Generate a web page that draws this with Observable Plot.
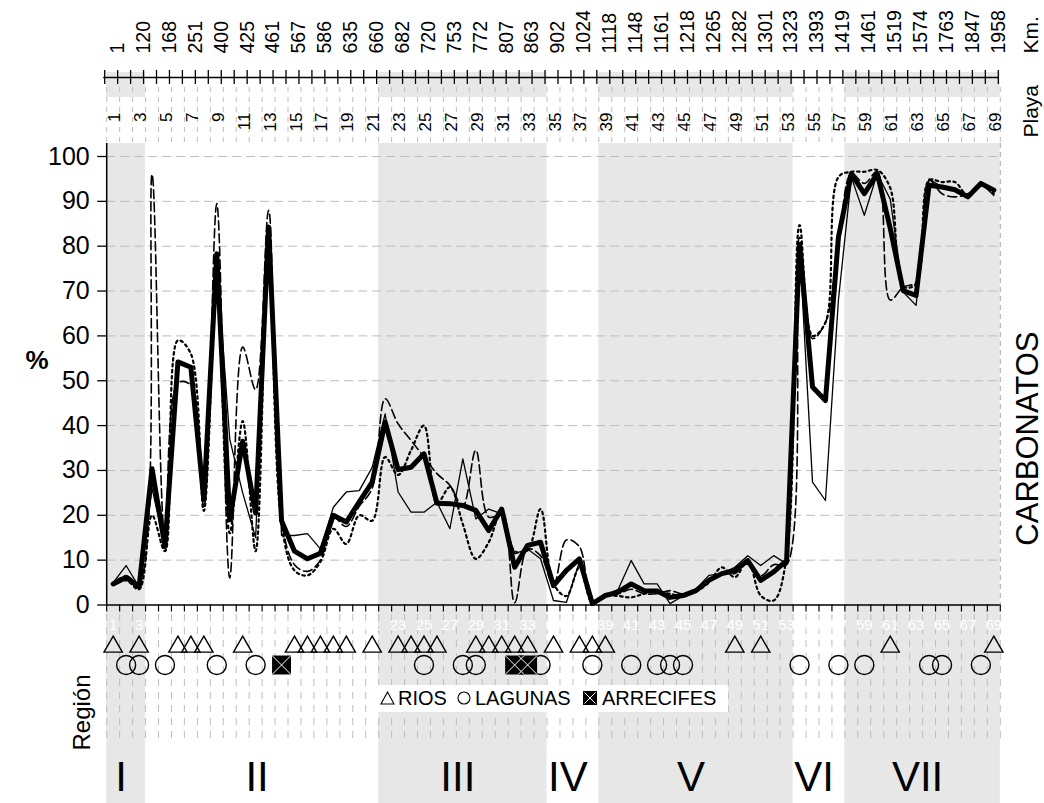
<!DOCTYPE html>
<html>
<head>
<meta charset="utf-8">
<script src="https://cdn.jsdelivr.net/npm/d3@7"></script>
<script src="https://cdn.jsdelivr.net/npm/@observablehq/plot@0.6"></script>
<style>
  body { margin: 0; background: #fff; }
  #wrap { position: relative; width: 1044px; height: 803px; font-family: "Liberation Sans", Arial, sans-serif; }
  #legend { position: absolute; left: 372px; top: 685px; width: 356px; height: 27px; background: #fff; font-size: 20px; color: #000; }
  #legend span, #legend svg { position: absolute; }
  #legend span { top: 0; line-height: 27px; }
</style>
</head>
<body>
<div id="wrap"></div>
<script>
// Beaches (playas) along the coast, numbered 1..69
const playas = d3.range(1, 70);

// Distance along the coast (km) for every odd beach
const kmLabels = [1, 120, 168, 251, 400, 425, 461, 567, 586, 635, 660, 682, 720, 753, 772, 807, 863, 902,
  1024, 1118, 1148, 1161, 1218, 1265, 1282, 1301, 1323, 1393, 1419, 1461, 1519, 1574, 1763, 1847, 1958];

// Carbonate content (%) per beach
const promedio = [4.7, 6.2, 4.0, 30.4, 13, 54.2, 53, 23.5, 78.3, 19,
  36.5, 20.5, 84.3, 18.8, 12, 10.3, 11.5, 20, 18.5, 23,
  27.4, 40.8, 30.2, 30.7, 33.7, 22.7, 22.6, 22.2, 21.1, 16.6,
  21.4, 8.4, 13.3, 14, 4.3, 7.7, 10.3, 0.3, 2.1, 2.9,
  4.7, 3.2, 3.1, 1.7, 2.1, 3.2, 5.5, 7, 7.7, 9.9,
  5.5, 7.4, 9.9, 80.4, 48.6, 45.6, 82, 96.2, 91.7, 96.2,
  84, 70.1, 69, 93.6, 93.2, 92.6, 91, 94, 92.5];

const muestraA = [5, 8.8, 4, 26, 13, 54, 53, 24, 77, 37,
  25, 15, 84, 15.5, 15.5, 15.9, 12.5, 21.8, 25.2, 25.5,
  30.7, 42.6, 25.2, 20.7, 20.7, 22.9, 17, 32.6, 19.2, 21.4,
  20.3, 11.4, 12.5, 10.3, 1, 0.6, 9.6, 0.3, 2, 3.5,
  9.9, 4.7, 4.7, 0.3, 2, 3.5, 6.6, 7, 8.4, 11,
  8.8, 11, 9.2, 80, 27.4, 23.3, 68, 95.4, 86.9, 96.2,
  90.5, 69.8, 66.8, 95, 93.2, 92.8, 91, 94.1, 91.3];

const muestraB = [5, 6.5, 5, 96, 15, 49.5, 49, 22, 89.5, 6,
  57.5, 48, 88, 19, 9, 7.5, 10, 19.5, 17.5, 22,
  26, 46, 40.4, 36.7, 33, 29.3, 26.7, 22, 34.5, 19.6,
  20, 0.5, 12.5, 11, 4.5, 14.5, 13, 0.5, 2.5, 2.5,
  3.5, 2.5, 2.5, 3.2, 2.5, 3.5, 5.5, 7, 7, 9.5,
  6.5, 9, 9, 82, 59.4, 63, 80, 96.2, 94, 96.6,
  68, 70.9, 72, 94.7, 91.7, 91, 91.7, 94, 92.5];

const muestraC = [4.5, 5.5, 3.5, 20, 12, 59, 56, 21, 72, 16,
  41, 12, 84, 18, 7.7, 6.6, 9.6, 17, 13.6, 20,
  18.8, 33, 29, 34.5, 40, 22.6, 26.3, 18, 10.3, 14,
  21, 12, 12.2, 21.4, 4.7, 2, 8.4, 0.5, 2, 2,
  1.7, 2.5, 3, 2.5, 2, 3, 5, 8.4, 6.2, 9.9,
  2.1, 1, 10.7, 84.7, 60, 63, 95.4, 96.6, 96.6, 97,
  93, 71, 71.6, 94.7, 94.3, 94.3, 91.3, 94, 91.7];

// Coastal regions
const regiones = ["I", "II", "III", "IV", "V", "VI", "VII"];
const regionInicio = [1, 4, 22, 35, 39, 54, 58];
const regionFin = [3, 21, 34, 38, 53, 57, 69];
const regionSombreada = [true, false, true, false, true, false, true];

// Features near each beach
const rios = [1, 3, 6, 7, 8, 11, 15, 16, 17, 18, 19, 21, 23, 24, 25, 26, 29, 30, 31, 32, 33, 35, 37, 38, 39, 49, 51, 61, 69];
const lagunas = [2, 3, 5, 9, 12, 25, 28, 29, 34, 38, 41, 43, 44, 45, 54, 57, 59, 64, 65, 68];
const arrecifes = [14, 32, 33];

const yTicks = d3.range(0, 101, 10);
const yDomain = [0, 100];

// ---- layout ----
const W = 1044, H = 803;
const mL = 106.2, mR = 44.2, mT = 156, mB = 198.5;
const frameBottom = H - mB;          // y pixel of 0 %
const frameH = frameBottom - mT;

const regionRows = regiones.map((r, k) => ({r, ini: regionInicio[k], fin: regionFin[k], sombra: regionSombreada[k]}));
const sombreadas = regionRows.filter(d => d.sombra);
const limites = d3.range(0.5, playas.length + 1);   // category boundaries
const impares = playas.filter(p => p % 2 === 1);

const series = [
  {key: "A", values: muestraA},
  {key: "B", values: muestraB},
  {key: "C", values: muestraC},
  {key: "P", values: promedio}
];
const rows = k => series.find(s => s.key === k).values.map((v, i) => ({playa: playas[i], v}));

const font = "'Liberation Sans', Arial, sans-serif";

const chart = Plot.plot({
  width: W, height: H,
  marginLeft: mL, marginRight: mR, marginTop: mT, marginBottom: mB,
  style: {fontFamily: font, background: "transparent", overflow: "visible"},
  x: {domain: [0.5, playas.length + 0.5], axis: null},
  y: {domain: yDomain, axis: null},
  marks: [
    // shaded regions: main band and the strip under the km axis
    Plot.rect(sombreadas, {x1: d => d.ini - 0.5, x2: d => d.fin + 0.5, fill: "#e7e7e7", insetTop: -(mT - 143), insetBottom: -mB}),
    Plot.rect(sombreadas, {x1: d => d.ini - 0.5, x2: d => d.fin + 0.5, fill: "#e7e7e7", insetTop: -(mT - 72), insetBottom: frameBottom - 97}),

    // dashed category guides above and below the plot
    Plot.ruleX(limites, {stroke: "#bdbdbd", strokeDasharray: "5,5", insetTop: -(mT - 87), insetBottom: frameBottom - 143}),
    Plot.ruleX(limites, {stroke: "#bdbdbd", strokeDasharray: "7,6", insetTop: 614 - mT, insetBottom: -(740 - frameBottom)}),

    // horizontal grid
    Plot.ruleY(yTicks.slice(1), {stroke: "#bdbdbd", strokeDasharray: "9,5"}),
    Plot.ruleX([playas.length + 0.5], {stroke: "#aaaaaa", strokeDasharray: "5,4", insetTop: -(mT - 143)}),

    // beach numbers in the feature row
    Plot.text(impares, {x: d => d, frameAnchor: "bottom", dy: 629 - frameBottom, fill: "white", fontSize: 15}),

    // features: rivers, lagoons, reefs
    Plot.dot(rios, {x: d => d, frameAnchor: "bottom", dy: 646.3 - frameBottom, symbol: "triangle", r: 6.8, stroke: "black", strokeWidth: 1.4, fill: "none"}),
    Plot.dot(lagunas, {x: d => d, frameAnchor: "bottom", dy: 664.5 - frameBottom, symbol: "circle", r: 9.5, stroke: "black", strokeWidth: 1.4, fill: "none"}),
    Plot.dot(arrecifes, {x: d => d, frameAnchor: "bottom", dy: 664.5 - frameBottom, symbol: "square", r: 10.7, fill: "black", stroke: "none"}),
    Plot.dot(arrecifes, {x: d => d, frameAnchor: "bottom", dy: 664.5 - frameBottom, symbol: "times", r: 8.6, stroke: "white", strokeWidth: 1}),

    // carbonate series
    Plot.line(rows("A"), {x: "playa", y: "v", stroke: "black", strokeWidth: 1.3}),
    Plot.line(rows("B"), {x: "playa", y: "v", stroke: "black", strokeWidth: 1.6, strokeDasharray: "9,4", curve: "catmull-rom"}),
    Plot.line(rows("C"), {x: "playa", y: "v", stroke: "black", strokeWidth: 2.2, strokeDasharray: "2.5,3.5", curve: "catmull-rom"}),
    Plot.line(rows("P"), {x: "playa", y: "v", stroke: "black", strokeWidth: 5, strokeLinejoin: "round"}),

    // axes
    Plot.ruleY([yDomain[0]], {stroke: "black", strokeWidth: 1.5}),
    Plot.ruleX([0.5], {stroke: "black", strokeWidth: 1.5, insetTop: -(mT - 143)}),
    Plot.ruleX(limites, {stroke: "black", strokeWidth: 1.2, insetTop: frameH, insetBottom: -7}),
    Plot.axisY(yTicks, {tickSize: 9, tickPadding: 8, fontSize: 25, stroke: "black", strokeWidth: 1.3, fill: "black", label: null}),

    // km axis on top
    Plot.ruleY([yDomain[1]], {dy: 77 - mT, stroke: "black", strokeWidth: 1.5, insetLeft: -2, dx: -1}),
    Plot.ruleX(limites, {stroke: "black", strokeWidth: 1.3, dx: -2, insetTop: -(mT - 70), insetBottom: frameBottom - 84}),
    Plot.text(kmLabels, {x: (d, k) => 2 * k + 1, text: d => String(d), frameAnchor: "top", dy: 53 - mT, dx: -3, rotate: -90, textAnchor: "start", fontSize: 19.5}),
    Plot.text(impares, {x: d => d, text: d => String(d), frameAnchor: "top", dy: 112 - mT, dx: -5, rotate: -90, textAnchor: "end", fontSize: 17}),
    Plot.text(["Km."], {frameAnchor: "top-right", dx: 1023 - (W - mR), dy: 53 - mT, rotate: -90, textAnchor: "start", fontSize: 21}),
    Plot.text(["Playa"], {frameAnchor: "top-right", dx: 1023 - (W - mR), dy: 137 - mT, rotate: -90, textAnchor: "start", fontSize: 21}),

    // titles
    Plot.text(["CARBONATOS"], {frameAnchor: "right", dx: 1028 - (W - mR), dy: 331 - (mT + frameH / 2), rotate: -90, fontSize: 31}),
    Plot.text(["%"], {frameAnchor: "left", dx: 25 - mL, dy: 360 - (mT + frameH / 2), fontSize: 26, fontWeight: "bold"}),
    Plot.text(["Región"], {frameAnchor: "bottom-left", dx: 89 - mL, dy: 750 - frameBottom, rotate: -90, fontSize: 24}),

    // region names
    Plot.text(regionRows, {x: d => (d.ini + d.fin) / 2, text: "r", frameAnchor: "bottom", dy: 777 - frameBottom, dx: -5, lineAnchor: "middle", fontSize: 42})
  ]
});

const wrap = document.getElementById("wrap");
wrap.appendChild(chart);

// legend for the feature symbols
const legend = document.createElement("div");
legend.id = "legend";
legend.innerHTML = `
  <svg style="left:8px;top:6px" width="15" height="14" viewBox="0 0 15 14"><path d="M7.5 1 L14 13 L1 13 Z" fill="none" stroke="black" stroke-width="1.1"/></svg>
  <span style="left:26px">RIOS</span>
  <svg style="left:85px;top:6px" width="14" height="14" viewBox="0 0 14 14"><circle cx="7" cy="7" r="6" fill="none" stroke="black" stroke-width="1.1"/></svg>
  <span style="left:103px">LAGUNAS</span>
  <svg style="left:211px;top:6px" width="14" height="14" viewBox="0 0 14 14"><rect x="0" y="0" width="14" height="14" fill="black"/><path d="M1.5 1.5 L12.5 12.5 M12.5 1.5 L1.5 12.5" stroke="white" stroke-width="1"/></svg>
  <span style="left:230px">ARRECIFES</span>`;
wrap.appendChild(legend);
</script>
</body>
</html>
